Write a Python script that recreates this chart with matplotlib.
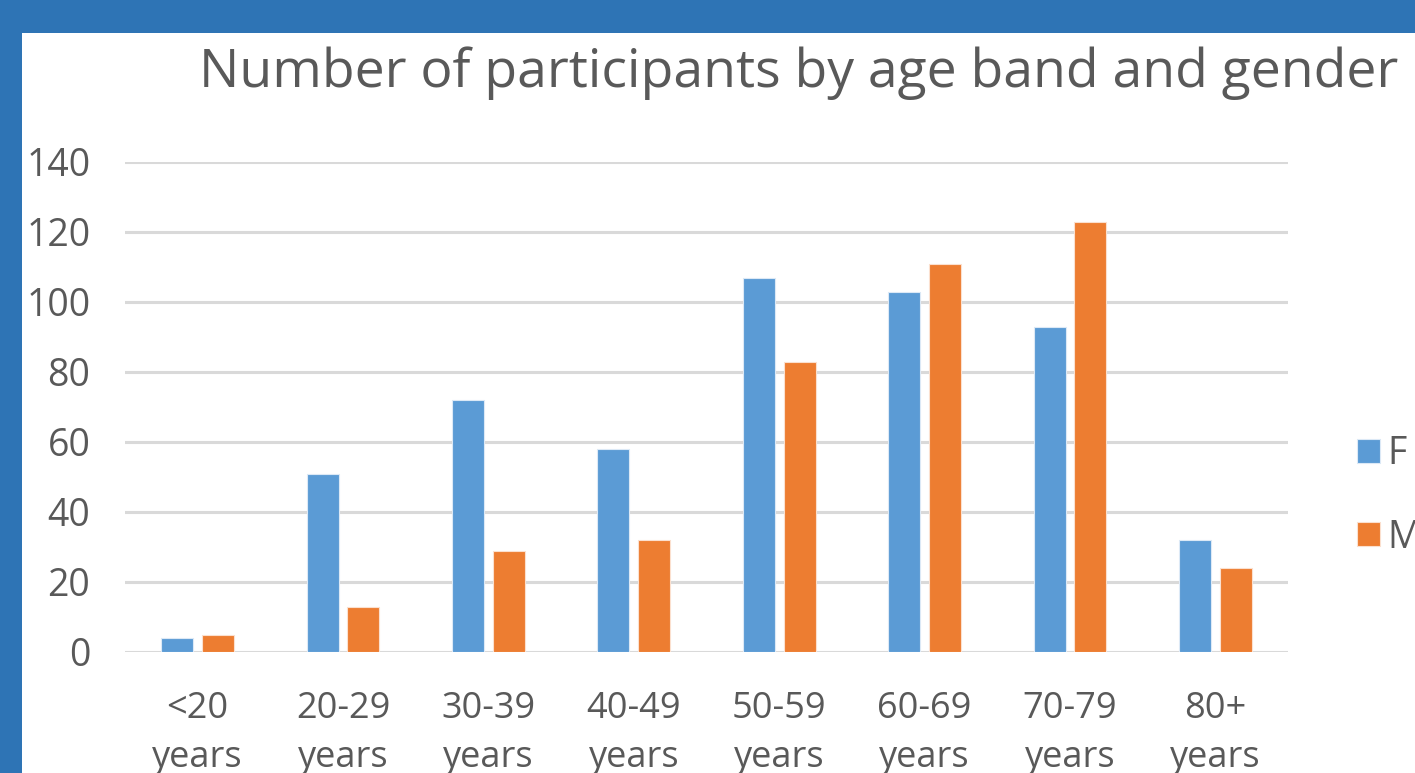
import numpy as np
import matplotlib
matplotlib.use("Agg")
from matplotlib import pyplot as plt
from matplotlib.patches import Rectangle

categories = ["<20\nyears", "20-29\nyears", "30-39\nyears", "40-49\nyears",
              "50-59\nyears", "60-69\nyears", "70-79\nyears", "80+\nyears"]
female = [4, 51, 72, 58, 107, 103, 93, 32]
male = [5, 13, 29, 32, 83, 111, 123, 24]
yticks = [0, 20, 40, 60, 80, 100, 120, 140]

plt.rcParams['font.family'] = ['Open Sans', 'DejaVu Sans']
grey = "#595959"

fig = plt.figure(figsize=(14.15, 7.73), dpi=100)
fig.patch.set_facecolor("#2E74B5")
# white chart area, cut off at right and bottom
fig.patches.append(Rectangle((22 / 1415, -0.1), 1.2, 1 - 33 / 773 + 0.1,
                             transform=fig.transFigure, facecolor="white",
                             edgecolor="none", zorder=-10))

ax = fig.add_axes([125 / 1415, 1 - 652 / 773, (1288 - 125) / 1415, (652 - 162) / 773])
ax.set_zorder(2)
ax.set_facecolor("none")

x = np.arange(len(categories))
w = 0.22
ax.bar(x - 0.14, female, w, color="#5B9BD5", edgecolor="#DCE9F6", linewidth=0.8, label="F", zorder=3)
ax.bar(x + 0.14, male, w, color="#ED7D31", edgecolor="#FBE0CF", linewidth=0.8, label="M", zorder=3)

ax.set_xlim(-0.5, len(categories) - 0.5)
ax.set_ylim(0, 140)
ax.set_yticks(yticks)
ax.set_yticklabels([str(v) for v in yticks])
ax.set_xticks(x)
ax.set_xticklabels(categories, linespacing=1.5)
ax.yaxis.grid(True, color="#D9D9D9", linewidth=2.2, zorder=0)
ax.set_axisbelow(True)
for s in ax.spines.values():
    s.set_visible(False)
ax.tick_params(axis="y", length=0, pad=25, labelsize=27, labelcolor=grey)
ax.tick_params(axis="x", length=0, pad=28, labelsize=26, labelcolor=grey)
for lbl in ax.get_yticklabels():
    lbl.set_clip_on(False)

fig.text(799 / 1415, 1 - 73 / 773, "Number of participants by age band and gender",
         ha="center", va="center", fontsize=38.5, color=grey)

ax.legend(loc="center left", bbox_to_anchor=(1357 / 1415, 1 - 496 / 773),
          bbox_transform=fig.transFigure, frameon=False, fontsize=27,
          labelcolor=grey, handlelength=0.62, handleheight=0.62,
          handletextpad=0.2, labelspacing=1.2, borderpad=0, borderaxespad=0)

fig.savefig("out.png", dpi=100, facecolor=fig.get_facecolor())
